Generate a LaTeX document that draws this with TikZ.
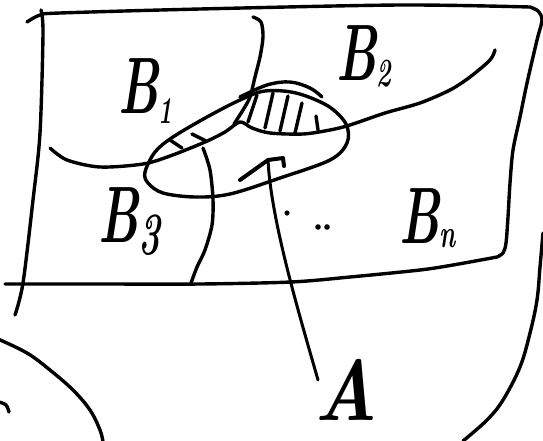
\documentclass[tikz,border=0pt]{standalone}
\usepackage{fontspec}
\usepackage{graphicx}
\begin{document}
\begin{tikzpicture}[x=1pt,y=-1pt,
  pen/.style={line width=3.4pt, line cap=round, line join=round},
  thinpen/.style={line width=3pt, line cap=round, line join=round},
  lbl/.style={inner sep=0pt, anchor=base west, text depth=0pt, font=\fontsize{80}{80}\selectfont\bfseries\itshape}]
\useasboundingbox (0,0) rectangle (543,440);

% frame (top, right, bottom)
\draw[pen] plot[smooth, tension=0.5] coordinates {(27,22) (40,15) (60,13) (200,9) (400,5) (530,7)}
  -- plot[smooth, tension=0.5] coordinates {(530,7) (538,11) (542,20) (537,40) (527,83) (520,117) (513,150) (510,183) (508,217) (506,243) (503,253) (497,257)}
  -- plot[smooth, tension=0.5] coordinates {(497,257) (453,265) (420,270) (350,277) (291,282) (200,284) (100,284) (5,284)};
% left side
\draw[pen] plot[smooth, tension=0.5] coordinates {(41,10) (43,33) (40,133) (33,200) (23,283) (15,315)};

% region boundaries
\draw[pen] plot[smooth, tension=0.5] coordinates {(253,17) (261,22) (263,37) (260,57) (255,77) (250,97) (243,110) (234,124)};
\draw[pen] plot[smooth, tension=0.5] coordinates {(50,148) (67,160) (100,167) (143,164) (170,156) (205,142) (225,132) (240,122) (252,128) (270,133) (303,134) (330,130) (350,125) (385,113) (420,103) (450,90) (470,77) (490,60) (495,50)};
\draw[pen] plot[smooth, tension=0.5] coordinates {(203,148) (210,170) (213,200) (212,225) (205,250) (197,267) (191,283)};

% set A (ellipse)
\draw[pen] plot[smooth cycle, tension=0.55] coordinates {(145,172) (155,152) (173,137) (207,117) (240,100) (265,91) (296,93) (328,106) (346,124) (347,143) (330,160) (280,178) (230,194) (195,197) (163,193) (148,183)};
\draw[pen] plot[smooth, tension=0.6] coordinates {(240,97) (267,85) (290,82) (310,88) (322,97)};

% hatching of A intersect B2
\foreach \p/\q in {{(257,95)}/{(248,122)}, {(273,93)}/{(265,128)}, {(288,96)}/{(280,131)}, {(302,103)}/{(295,133)}, {(316,116)}/{(318,130)}}
  \draw[pen] \p -- \q;
% small marks in A intersect B1
\draw[pen] (170,140) -- (182,148);
\draw[pen] (192,134) -- (206,141);

% ellipsis dots
\fill (287,213) circle (2.6);
\fill (318,227) circle (2.8);
\fill (327,227) circle (2.8);

% labels
\node[lbl] (b1) at (118,113) {\scalebox{0.62}[1]{B\raisebox{-10pt}{\fontsize{38}{38}\selectfont 1}}};
\node[lbl] (b2) at (336,80) {\scalebox{0.62}[1]{B\raisebox{-6pt}{\fontsize{40}{40}\selectfont 2}}};
\node[lbl] (b3) at (98,242) {\scalebox{0.62}[1]{B\raisebox{-12pt}{\fontsize{60}{60}\selectfont 3}}};
\node[lbl] (bn) at (399,243) {\scalebox{0.62}[1]{B\raisebox{-4pt}{\fontsize{40}{40}\selectfont n}}};
\node[lbl, font=\fontsize{86}{86}\selectfont\bfseries\itshape] (a) at (314,420) {\scalebox{0.85}[1]{A}};

% arrow from A into the shaded part
\coordinate (arrowtail) at (318,380);
\coordinate (arrowtip) at (268,160);
\draw[thinpen] (arrowtail) .. controls (298,310) and (271,220) .. (arrowtip);
\draw[pen, line width=4pt] (240,180) -- (arrowtip) -- (283,158) -- (284,166);

% outer curves
\draw[pen] plot[smooth, tension=0.6] coordinates {(543,233) (540,267) (537,300) (530,333) (520,367) (503,400) (487,420) (463,441)};
\draw[pen] plot[smooth, tension=0.6] coordinates {(-2,339) (27,353) (50,370) (73,390) (90,410) (100,430) (103,442)};
\draw[pen] plot[smooth, tension=0.6] coordinates {(-1,402) (6,405) (9,412)};
\end{tikzpicture}
\end{document}
